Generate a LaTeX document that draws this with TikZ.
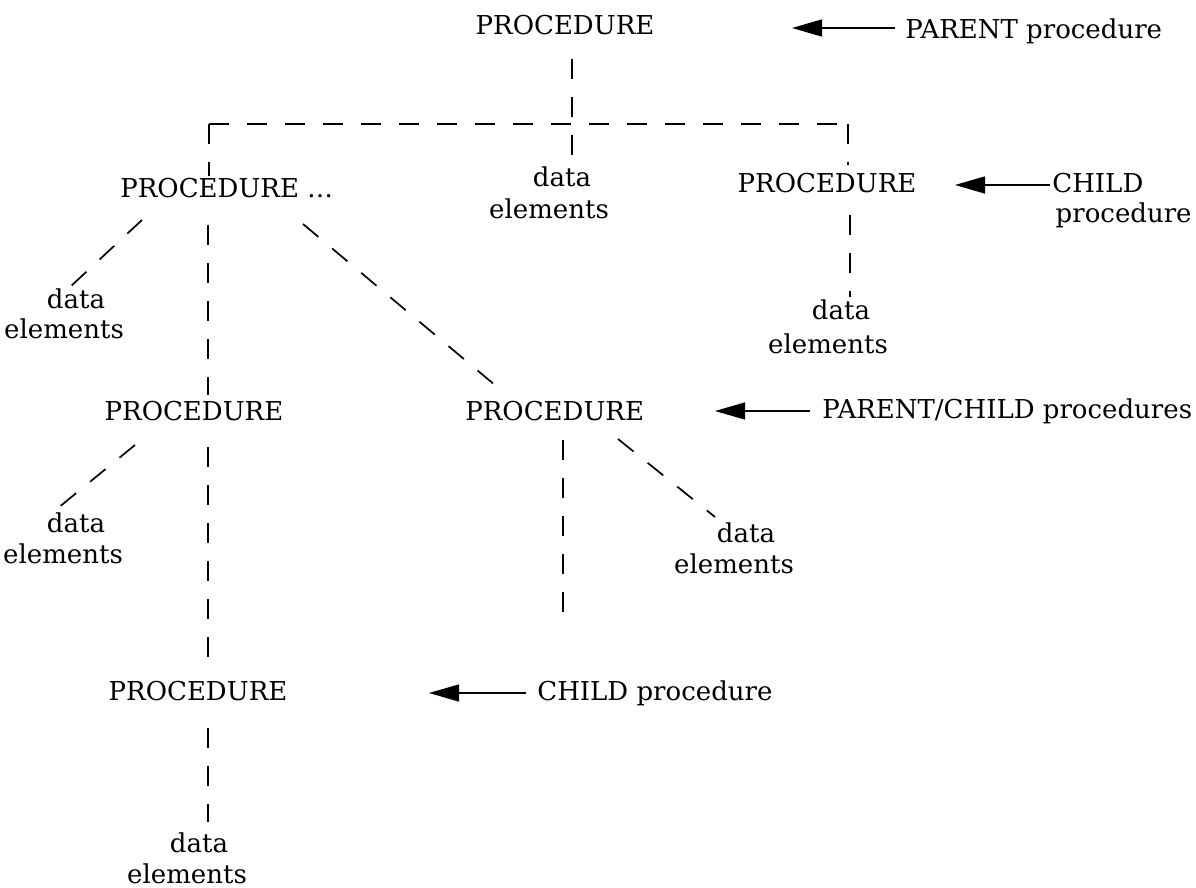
\documentclass[tikz,border=0pt]{standalone}
\usepackage{fontspec}
\setmainfont{DejaVu Serif}
\usetikzlibrary{arrows.meta}
\begin{document}
\begin{tikzpicture}[x=0.5pt,y=-0.5pt,
  txt/.style={inner sep=0pt, font=\fontsize{13}{15}\selectfont},
  link/.style={line width=0.85pt, dash pattern=on 10pt off 9pt},
  pointer/.style={line width=0.65pt, -{Triangle[length=15pt,width=8.5pt]}}]
\useasboundingbox (0,0) rectangle (1196,888);

% procedures
\node[txt,anchor=base]      (pTop) at (565,35)  {PROCEDURE};
\node[txt,anchor=base west] (pA)   at (120,198) {PROCEDURE \ldots};
\node[txt,anchor=base]      (pB)   at (827,193) {PROCEDURE};
\node[txt,anchor=base west] (pC)   at (465,420) {PROCEDURE};
\node[txt,anchor=base]      (pD)   at (194,420) {PROCEDURE};
\node[txt,anchor=base]      (pE)   at (198,700) {PROCEDURE};

% data elements (two lines each)
\node[txt,anchor=base] (dTop)  at (562,187) {data};
\node[txt,anchor=base] (dTopE) at (549,219) {elements};
\node[txt,anchor=base] (dA)    at (76,308)  {data};
\node[txt,anchor=base] (dAE)   at (64,338)  {elements};
\node[txt,anchor=base] (dB)    at (841,320) {data};
\node[txt,anchor=base] (dBE)   at (828,353) {elements};
\node[txt,anchor=base] (dC)    at (746,542) {data};
\node[txt,anchor=base] (dCE)   at (734,573) {elements};
\node[txt,anchor=base] (dD)    at (76,532)  {data};
\node[txt,anchor=base] (dDE)   at (63,563)  {elements};
\node[txt,anchor=base] (dE)    at (199,852) {data};
\node[txt,anchor=base] (dEE)   at (187,883) {elements};

% annotations
\node[txt,anchor=base west] (lParent) at (905,39)  {PARENT procedure};
\node[txt,anchor=base west] (lChildA) at (1052,193) {CHILD};
\node[txt,anchor=base east] (lChildB) at (1192,223) {procedure};
\node[txt,anchor=base west] (lPC)     at (822,418) {PARENT/CHILD procedures};
\node[txt,anchor=base west] (lChild)  at (537,700) {CHILD procedure};

% branching bar under the top procedure
\coordinate (barL) at (209,124);
\coordinate (barR) at (848,124);
\coordinate (pCtail) at (563,628);

\draw[link] (barL) -- (barR);
\draw[link] ([shift={(7,23)}]pTop.south) -- ([shift={(10,-28)}]dTop.base);
\draw[link] (barL) -- ([shift={(89,-22)}]pA.base west);
\draw[link] (barR) -- ([shift={(21,-28)}]pB.base);

% links of PROCEDURE ...
\draw[link] ([shift={(22,22)}]pA.base west) -- ([shift={(-6,-21)}]dA.base);
\draw[link] ([shift={(88,27)}]pA.base west) -- ([shift={(14,-25)}]pD.base);
\draw[link] ([shift={(183,26)}]pA.base west) -- ([shift={(37,-29)}]pC.base west);

% right child
\draw[link] ([shift={(23,22)}]pB.base) -- ([shift={(9,-23)}]dB.base);

% parent/child procedure
\draw[link] ([shift={(98,20)}]pC.base west) -- (pCtail);
\draw[link] ([shift={(153,19)}]pC.base west) -- ([shift={(-31,-25)}]dC.base);

% lower left chain
\draw[link] ([shift={(-59,25)}]pD.base) -- ([shift={(-18,-24)}]dD.base);
\draw[link] ([shift={(14,27)}]pD.base) -- ([shift={(10,-25)}]pE.base);
\draw[link] ([shift={(10,28)}]pE.base) -- ([shift={(9,-30)}]dE.base);

% pointers
\draw[pointer] ([shift={(-10,-11)}]lParent.base west) -- ++(-103,0);
\draw[pointer] ([shift={(-2,-8)}]lChildA.base west) -- ++(-95,0);
\draw[pointer] ([shift={(-12,-7)}]lPC.base west) -- ++(-95,0);
\draw[pointer] ([shift={(-11,-7)}]lChild.base west) -- ++(-97,0);
\end{tikzpicture}
\end{document}
